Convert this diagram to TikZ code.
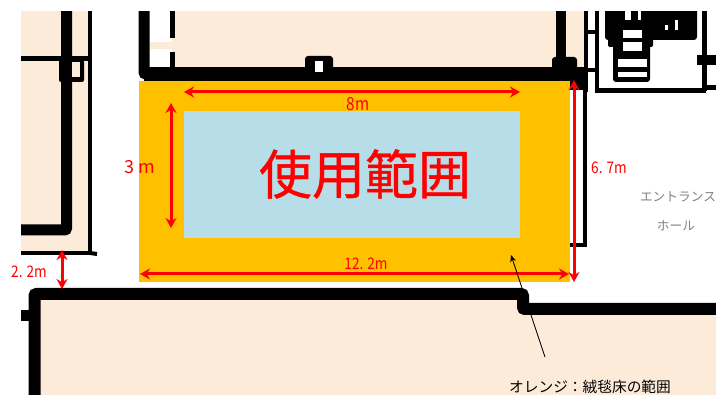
\documentclass[tikz,border=0pt]{standalone}
\usepackage{fontspec}
\setmainfont{Noto Sans CJK JP}
\newfontfamily\titlecjk[FakeBold=0.7]{Noto Sans CJK JP}
\usetikzlibrary{arrows.meta}
\definecolor{peach}{HTML}{FDEBDA}
\definecolor{carpet}{HTML}{FFC000}
\definecolor{usearea}{HTML}{B7DEE8}
\newcommand{\narrowtxt}[1]{\scalebox{.85}[1]{#1}}
\tikzset{
    wallthick/.style={line width=11pt, black, rounded corners=2pt},
    wallmid/.style={line width=5pt, black},
    wallthin/.style={line width=4pt, black},
    dimline/.style={red, line width=3pt, {Stealth[length=10pt,width=11pt]}-{Stealth[length=10pt,width=11pt]}},
    dimlabel/.style={red, inner sep=0pt, font=\fontsize{16}{16}\selectfont},
}
\begin{document}
\begin{tikzpicture}[x=1pt, y=-1pt]
    \useasboundingbox (0,0) rectangle (716,395);

    % pavimenti color pesca
    \fill[peach] (21,11) rectangle (89,252);
    \fill[peach] (172,11) rectangle (585,68);
    \fill[peach] (150,42) rectangle (176,49);
    \fill[peach] (36,298) -- (525,298) -- (525,312) -- (716,312) -- (716,395) -- (36,395) -- cycle;

    % zona arancione e zona azzurra
    \fill[carpet] (139,81) rectangle (570,282);
    \fill[usearea] (184,111) rectangle (520,238);

    % muri a sinistra
    \draw[wallthick] (66.5,5) -- (66.5,230) -- (21,230);
    \draw[wallthin] (90,5) -- (90,253) -- (21,253);
    \draw[wallthin] (90,253) -- (97,254);
    \draw[wallmid] (21,59) -- (88,59);
    \fill[black, rounded corners=2pt] (59,60) rectangle (84,82);
    \fill[peach] (72,62) rectangle (80,77);

    % muri in alto
    \draw[wallthick] (144,5) -- (144,74) -- (575,74);
    \draw[wallmid] (172.5,5) -- (172.5,38);
    \draw[wallmid] (172.5,52) -- (172.5,72);
    \draw[line width=14pt] (144,74) -- (585,74);
    \fill[black, rounded corners=3pt] (305,56) rectangle (333,72);
    \fill[white] (315,61) rectangle (323,72);
    \draw[line width=10pt] (561,5) -- (561,62);
    \fill[black, rounded corners=3pt] (552,57) rectangle (577,72);
    \fill[black] (570,68) rectangle (587,90);

    % scala e vani in alto a destra
    \draw[wallthin] (586,5) -- (586,92);
    \draw[wallthin] (597,5) -- (597,91);
    \draw[wallthin, line width=5pt] (595,91) -- (706,91);
    \draw[wallmid] (704.5,5) -- (704.5,91);
    \draw[wallmid, line width=10pt] (697,60) -- (716,60);
    \draw[wallmid] (704,88) -- (716,88);
    \draw[wallthin] (586,32) -- (597,32);
    \draw[wallthin] (586,70) -- (597,70);
    \fill[black, rounded corners=3pt] (605,5) rectangle (697,40);
    \fill[black, rounded corners=2pt] (608,30) rectangle (653,47);
    \fill[black, rounded corners=3pt] (613,40) rectangle (650,82);
    \foreach \ypos/\yh/\xa/\xb in {30/8/623/642,42/9/623/642,59/8/618/647,72/5/618/647}
        \fill[white] (\xa,\ypos) rectangle (\xb,\ypos+\yh);
    \fill[white] (665,25) rectangle (668,30);
    \fill[white] (675,20) rectangle (678,30);
    \fill[white] (625,11) rectangle (631,20);
    \fill[white] (638,11) rectangle (641,20);

    % muro destro della zona
    \draw[wallthin] (585,88) -- (585,245) -- (570,245);

    % muro in basso
    \draw[wallthick, line width=12pt] (34.5,400) -- (34.5,294) -- (523,294) -- (523,309) -- (716,309);
    \fill[black] (21,310) rectangle (30,321);

    % margine bianco in alto
    \fill[white] (0,0) rectangle (716,11);

    % testi
    \node[red, inner sep=0pt, font=\titlecjk\fontsize{53}{53}\selectfont] (titleuse) at (365,174) {使用範囲};
    \node[dimlabel, font=\fontsize{18}{18}\selectfont] (labeleight) at (358,104) {\narrowtxt{8m}};
    \node[dimlabel, font=\fontsize{18}{18}\selectfont] (labelthree) at (140,167) {3 m};
    \node[dimlabel] (labeltwelve) at (366,264) {\narrowtxt{12. 2m}};
    \node[dimlabel] (labelsix) at (609,168) {\narrowtxt{6. 7m}};
    \node[dimlabel] (labeltwo) at (29,272) {\narrowtxt{2. 2m}};
    \node[gray, inner sep=0pt, font=\fontsize{12.7}{12.7}\selectfont] (hallone) at (678,197) {エントランス};
    \node[gray, inner sep=0pt, font=\fontsize{12.7}{12.7}\selectfont] (halltwo) at (676,226) {ホール};
    \node[inner sep=0pt, font=\fontsize{14.7}{14.7}\selectfont] (noteorange) at (590,387) {オレンジ：絨毯床の範囲};

    % frecce delle misure
    \coordinate (eightl) at (184,92);
    \coordinate (eightr) at (520,92);
    \coordinate (threet) at (171,103);
    \coordinate (threeb) at (171,228);
    \coordinate (twelvel) at (140,274);
    \coordinate (twelver) at (569,274);
    \coordinate (sixt) at (574,80);
    \coordinate (sixb) at (574,282);
    \coordinate (twot) at (62,250);
    \coordinate (twob) at (62,289);
    \draw[dimline] (eightl) -- (eightr);
    \draw[dimline] (threet) -- (threeb);
    \draw[dimline] (twelvel) -- (twelver);
    \draw[dimline] (sixt) -- (sixb);
    \draw[dimline] (twot) -- (twob);

    % freccia della nota
    \coordinate (notestart) at (545,357);
    \coordinate (noteend) at (511,255);
    \draw[black, line width=0.8pt, -{Stealth[length=7pt,width=6pt]}] (notestart) -- (noteend);
\end{tikzpicture}
\end{document}
